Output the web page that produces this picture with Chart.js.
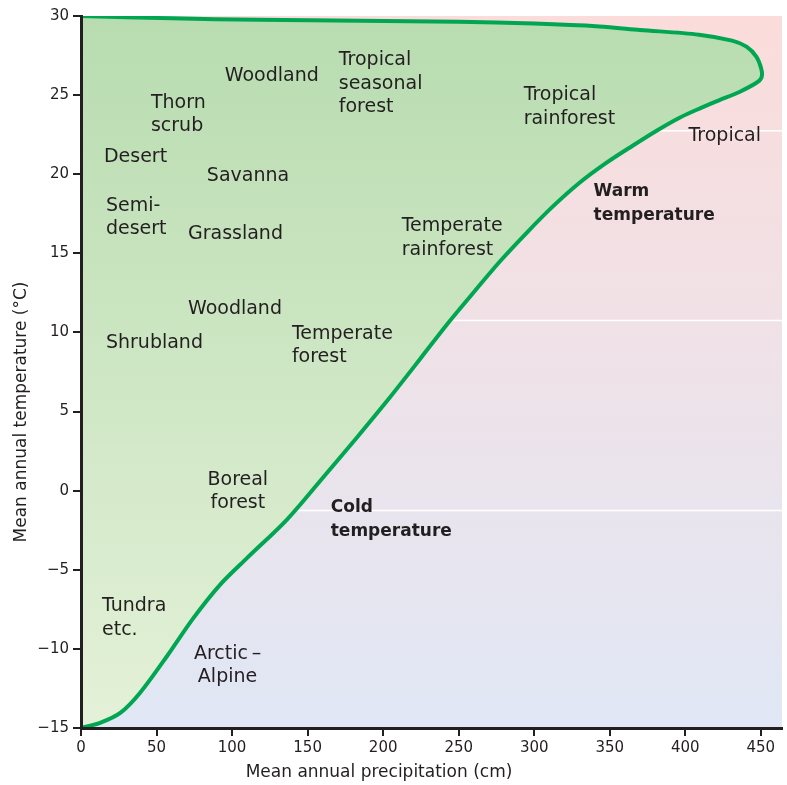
<!DOCTYPE html>
<html lang="en">
<head>
<meta charset="UTF-8">
<title>Biomes</title>
<script src="https://cdn.jsdelivr.net/npm/chart.js@4.4.1/dist/chart.umd.min.js"></script>
<style>
  html, body { margin: 0; padding: 0; background: #fff; }
</style>
</head>
<body>
<canvas id="myChart" width="787" height="785"></canvas>
<script>
// boundary of the land biomes, clockwise from the top-left corner
const boundaryPrecip = [0, 60, 118, 185, 250, 300, 343, 370, 409, 431, 440.5, 447, 450.4, 450.4, 447.1, 435.8, 422.6, 409.4, 396.2, 381, 365.1, 347.9, 330, 312.2, 295, 277.1, 261.9, 242.1, 224.2, 204.4, 182.5, 160.1, 136.2, 110, 92, 74, 57, 39, 26, 12.6, 0];
const boundaryTemp = [30, 29.85, 29.76, 29.7, 29.64, 29.52, 29.34, 29.12, 28.82, 28.44, 28.06, 27.43, 26.61, 26.1, 25.78, 25.2, 24.68, 24.15, 23.57, 22.75, 21.8, 20.73, 19.46, 17.95, 16.3, 14.47, 12.76, 10.49, 8.29, 5.89, 3.35, 0.82, -1.84, -4.25, -5.95, -8.1, -10.45, -12.79, -14.05, -14.68, -15];

const xTicks = [0, 50, 100, 150, 200, 250, 300, 350, 400, 450];
const yTicks = [-15, -10, -5, 0, 5, 10, 15, 20, 25, 30];

// biome names, placed at (precipitation, temperature) of the first line
const labelLines = [
  ['Woodland'], ['Tropical', 'seasonal', 'forest'], ['Tropical', 'rainforest'],
  ['Thorn', 'scrub'], ['Desert'], ['Savanna'], ['Semi-', 'desert'], ['Grassland'],
  ['Temperate', 'rainforest'], ['Tropical'], ['Warm', 'temperature'], ['Woodland'],
  ['Temperate', 'forest'], ['Shrubland'], ['Boreal', 'forest'], ['Cold', 'temperature'],
  ['Tundra', 'etc.'], ['Arctic\u2009\u2013', 'Alpine']
];
const labelPrecip = [95.2, 170.6, 293, 46.3, 15.2, 83.3, 16.5, 70.8, 212.3, 402.1, 339.3, 70.8, 139.6, 16.5, 103.8, 165.3, 13.9, 97];
const labelTemp = [26.2, 27.2, 25.0, 24.5, 21.1, 19.9, 18.0, 16.2, 16.7, 22.4, 18.9, 11.5, 9.9, 9.3, 0.7, -1.1, -7.3, -10.3];
const labelBold = [false, false, false, false, false, false, false, false, false, false, true, false, false, false, false, true, false, false];
const labelCenter = [false, false, false, false, false, false, false, false, false, false, false, false, false, false, true, false, false, true];

// pale seams in the background artwork
const bandLines = [22.75, 10.75, -1.25];

const xTitle = 'Mean annual precipitation (cm)';
const yTitle = 'Mean annual temperature (\u00b0C)';

const inkColor = '#231f20';
const curveColor = '#00a651';
const fontName = "'DejaVu Sans', sans-serif";

const points = boundaryPrecip.map((p, i) => ({x: p, y: boundaryTemp[i]}));

const backdrop = {
  id: 'backdrop',
  beforeDatasetsDraw(chart) {
    const {ctx, chartArea: a, scales} = chart;
    ctx.save();
    const g = ctx.createLinearGradient(0, a.top, 0, a.bottom);
    g.addColorStop(0, '#fbdcdb');
    g.addColorStop(0.5, '#eee2e8');
    g.addColorStop(1, '#e0e7f5');
    ctx.fillStyle = g;
    ctx.fillRect(a.left, a.top, a.right - a.left, a.bottom - a.top);
    ctx.strokeStyle = '#ffffff';
    ctx.lineWidth = 1.5;
    bandLines.forEach(v => {
      const y = scales.y.getPixelForValue(v);
      ctx.beginPath();
      ctx.moveTo(a.left, y);
      ctx.lineTo(a.right, y);
      ctx.stroke();
    });
    ctx.restore();
  }
};

const textLayer = {
  id: 'textLayer',
  afterDatasetsDraw(chart) {
    const {ctx, chartArea: a, scales} = chart;
    ctx.save();
    ctx.fillStyle = inkColor;
    ctx.textBaseline = 'middle';
    labelLines.forEach((lines, i) => {
      const x = scales.x.getPixelForValue(labelPrecip[i]);
      const y = scales.y.getPixelForValue(labelTemp[i]);
      ctx.font = labelBold[i] ? 'bold 17px ' + fontName : '19px ' + fontName;
      ctx.textAlign = labelCenter[i] ? 'center' : 'left';
      lines.forEach((t, j) => ctx.fillText(t, x, y + j * 23.5));
    });

    // axis titles
    ctx.font = '17px ' + fontName;
    ctx.textAlign = 'center';
    ctx.fillText(xTitle, 379, a.bottom + 45);
    ctx.translate(22, 412);
    ctx.rotate(-Math.PI / 2);
    ctx.fillText(yTitle, 0, 0);
    ctx.restore();
  }
};

new Chart(document.getElementById('myChart'), {
  type: 'line',
  data: {
    datasets: [{
      data: points,
      borderColor: curveColor,
      borderWidth: 4,
      pointRadius: 0,
      tension: 0.3,
      fill: 'shape',
      backgroundColor: (c) => {
        const a = c.chart.chartArea;
        if (!a) return '#c8e4bf';
        const g = c.chart.ctx.createLinearGradient(0, a.top, 0, a.bottom);
        g.addColorStop(0, '#b8dcb0');
        g.addColorStop(1, '#e4f1d8');
        return g;
      }
    }]
  },
  options: {
    responsive: false,
    animation: false,
    devicePixelRatio: 1,
    layout: {padding: {top: 16, right: 5, left: 0, bottom: 0}},
    plugins: {legend: {display: false}, tooltip: {enabled: false}},
    scales: {
      x: {
        type: 'linear',
        min: 0,
        max: 464,
        afterBuildTicks: s => { s.ticks = xTicks.map(v => ({value: v})); },
        afterFit: s => { s.height = 57; },
        grid: {z: 1, drawOnChartArea: false, drawTicks: true, tickLength: 8, color: inkColor, lineWidth: 2},
        border: {z: 1, display: true, color: inkColor, width: 3},
        ticks: {z: 1, color: inkColor, padding: 3, maxRotation: 0, font: {family: fontName, size: 15}}
      },
      y: {
        type: 'linear',
        min: -15,
        max: 30,
        afterBuildTicks: s => { s.ticks = yTicks.map(v => ({value: v})); },
        afterFit: s => { s.width = 81; },
        grid: {z: 1, drawOnChartArea: false, drawTicks: true, tickLength: 8, color: inkColor, lineWidth: 2},
        border: {z: 1, display: true, color: inkColor, width: 3},
        ticks: {
          z: 1, color: inkColor, padding: 4, font: {family: fontName, size: 15},
          callback: v => v < 0 ? '\u2212' + Math.abs(v) : String(v)
        }
      }
    }
  },
  plugins: [backdrop, textLayer]
});
</script>
</body>
</html>
